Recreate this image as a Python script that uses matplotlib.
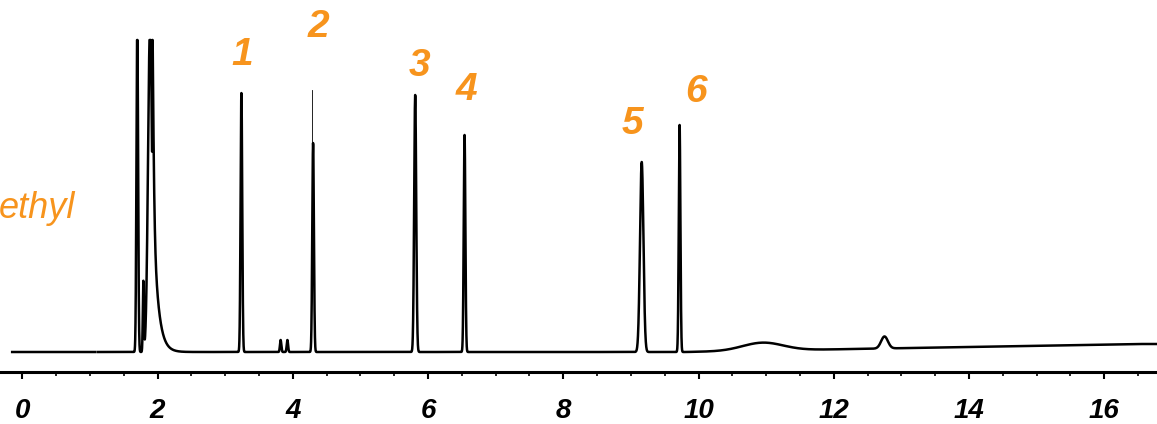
import numpy as np
import matplotlib.pyplot as plt

plt.rcParams['font.family'] = ['Liberation Sans', 'DejaVu Sans']

# peak table: retention time (min), height, width (min)
peak_rt = [1.70, 1.79, 1.89, 3.24, 3.82, 3.92, 4.30, 5.81, 6.54, 9.16, 9.72, 10.95, 12.75]
peak_h = [330, 70, 330, 259, 12, 12, 209, 257, 217, 190, 227, 8, 12]
peak_w = [0.012, 0.008, 0.03, 0.012, 0.01, 0.01, 0.012, 0.015, 0.012, 0.025, 0.012, 0.3, 0.05]
CLIP = 312
spike_rt, spike_h = 4.285, 262

label_text = ["1", "2", "3", "4", "5", "6"]
label_x = [3.25, 4.38, 5.88, 6.57, 9.02, 9.97]
label_y = [297, 325, 286, 262, 228, 260]

t = np.linspace(-0.15, 16.9, 20000)
sig = np.zeros_like(t)
for rt, h, w in zip(peak_rt, peak_h, peak_w):
    sig += h * np.exp(-0.5 * ((t - rt) / w) ** 2)
# tail of the solvent peak
sig += np.where(t > 1.92, 180 * np.exp(-(t - 1.92) / 0.07), 0)
# slow baseline drift
sig += np.clip((t - 9.8) * 1.2, 0, 8)
sig = np.minimum(sig, CLIP)
sig[(t > 1.08) & (t < 1.12)] = np.nan

fig = plt.figure(figsize=(11.57, 4.24), dpi=100)
ax = fig.add_axes([0, 1 - 372 / 424, 1, 372 / 424])
ax.plot(t, sig, color="black", lw=1.8)
ax.plot([spike_rt, spike_rt], [200, spike_h], color="black", lw=0.6)
ax.set_xlim(-0.33, 16.78)
ax.set_ylim(-20, 352)
for s in ["top", "left", "right"]:
    ax.spines[s].set_visible(False)
ax.spines["bottom"].set_linewidth(2.2)
ax.set_yticks([])
ax.set_xticks(range(0, 17, 2))
ax.set_xticks(np.arange(0, 17, 0.5), minor=True)
ax.tick_params(axis="x", which="major", length=5, width=1.5, pad=14, labelsize=20)
ax.tick_params(axis="x", which="minor", length=3, width=1.2)
for lab in ax.get_xticklabels():
    lab.set_fontweight("bold")
    lab.set_fontstyle("italic")

orange = "#F7941D"
for txt, x, y in zip(label_text, label_x, label_y):
    ax.text(x, y, txt, color=orange, fontsize=28, fontweight="bold",
            fontstyle="italic", ha="center", va="center")
fig.text(75 / 1157, 1 - 208 / 424, "ethyl", color=orange, fontsize=26,
         fontstyle="italic", ha="right", va="center")

fig.savefig("out.png", dpi=100)
